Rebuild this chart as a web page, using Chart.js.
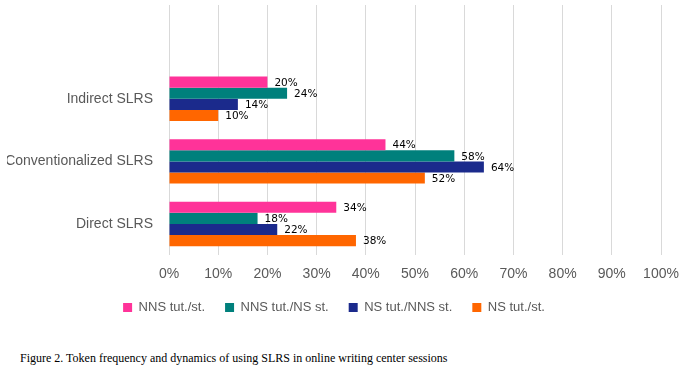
<!DOCTYPE html>
<html>
<head>
<meta charset="utf-8">
<script src="https://cdn.jsdelivr.net/npm/chart.js@4.4.0/dist/chart.umd.min.js"></script>
<style>
  body { margin: 0; background: #fff; width: 700px; height: 369px; position: relative; overflow: hidden; }
  #wrap { position: absolute; left: 0; top: 0; width: 700px; height: 330px; }
  #caption { position: absolute; left: 20px; top: 351px; font-family: "Liberation Serif", serif; font-size: 12px; color: #000; white-space: nowrap; }
</style>
</head>
<body>
<div id="wrap"><canvas id="chart1"></canvas></div>
<div id="caption">Figure 2. Token frequency and dynamics of using SLRS in online writing center sessions</div>
<script>
// top row is empty in the original (gridlines run above the first group)
const categories = ['', 'Indirect SLRS', 'Conventionalized SLRS', 'Direct SLRS'];
const nnsTutSt = [null, 20, 44, 34];
const nnsTutNsSt = [null, 24, 58, 18];
const nsTutNnsSt = [null, 14, 64, 22];
const nsTutSt = [null, 10, 52, 38];
const xTicks = [0, 10, 20, 30, 40, 50, 60, 70, 80, 90, 100];

const valueLabels = {
    id: 'valueLabels',
    afterDatasetsDraw(chart) {
        const ctx = chart.ctx;
        ctx.save();
        ctx.font = '10.5px "DejaVu Sans"';
        ctx.fillStyle = '#000';
        ctx.textBaseline = 'middle';
        ctx.textAlign = 'left';
        chart.data.datasets.forEach((ds, i) => {
            chart.getDatasetMeta(i).data.forEach((bar, j) => {
                const v = ds.data[j];
                if (v == null) return;
                ctx.fillText(v + '%', bar.x + 7, bar.y + 1);
            });
        });
        ctx.restore();
    }
};

const ctx = document.getElementById('chart1').getContext('2d');
new Chart(ctx, {
    type: 'bar',
    data: {
        labels: categories,
        datasets: [
            { label: 'NNS tut./st.', data: nnsTutSt, backgroundColor: '#FF3399' },
            { label: 'NNS tut./NS st.', data: nnsTutNsSt, backgroundColor: '#00807C' },
            { label: 'NS tut./NNS st.', data: nsTutNnsSt, backgroundColor: '#1B2A8C' },
            { label: 'NS tut./st.', data: nsTutSt, backgroundColor: '#FF6600' }
        ]
    },
    options: {
        indexAxis: 'y',
        responsive: true,
        maintainAspectRatio: false,
        animation: false,
        layout: { padding: { left: 7, right: 39, top: 5, bottom: 6 } },
        datasets: { bar: { categoryPercentage: 0.71, barPercentage: 1 } },
        scales: {
            x: {
                min: 0, max: 100,
                afterBuildTicks: s => { s.ticks = xTicks.map(v => ({ value: v })); },
                afterFit: s => { s.height -= 13; },
                ticks: { callback: v => v + '%', color: '#595959', font: { family: 'Liberation Sans', size: 14 }, padding: 11 },
                grid: { color: '#d9d9d9', drawTicks: false },
                border: { display: false }
            },
            y: {
                afterFit: s => { s.width = 162; s.paddingTop = 0; s.paddingBottom = 0; },
                ticks: { color: '#595959', font: { family: 'Liberation Sans', size: 14 }, padding: 16 },
                grid: { display: false, drawTicks: false },
                border: { display: false }
            }
        },
        plugins: {
            legend: {
                position: 'bottom',
                labels: { boxWidth: 9, boxHeight: 9, padding: 20, color: '#595959', font: { family: 'Liberation Sans', size: 13 } }
            },
            tooltip: { enabled: false }
        }
    },
    plugins: [valueLabels]
});
</script>
</body>
</html>
